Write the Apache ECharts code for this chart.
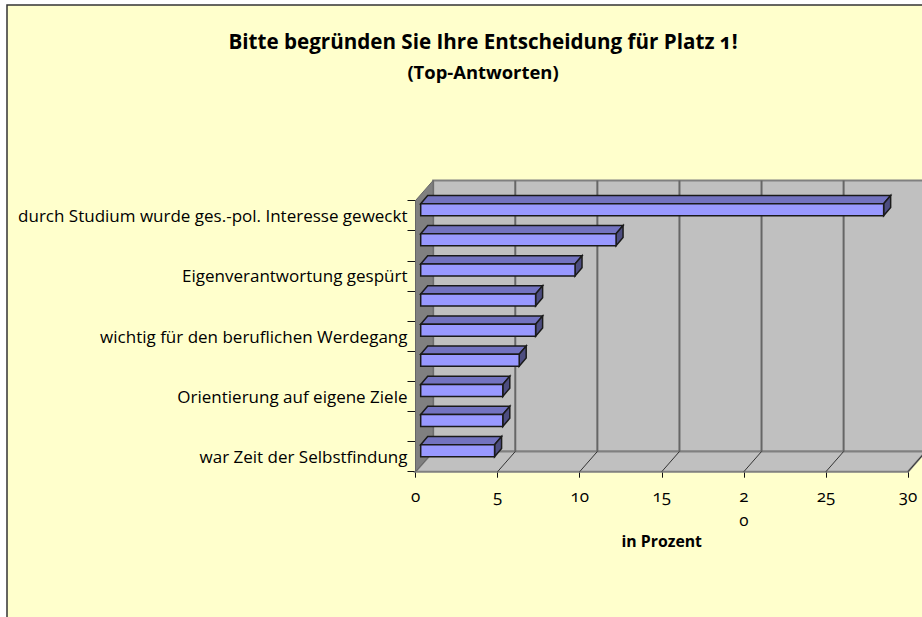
<!DOCTYPE html>
<html><head><meta charset="utf-8">
<style>html,body{margin:0;padding:0;background:#fff}#c{width:922px;height:617px}
text{font-feature-settings:"onum" 1;font-variant-numeric:oldstyle-nums}</style>
<script src="https://cdn.jsdelivr.net/npm/echarts@6/dist/echarts.min.js"></script>
</head><body><div id="c"></div>
<script>
const titleLine1 = 'Bitte begründen Sie Ihre Entscheidung für Platz 1!';
const titleLine2 = '(Top-Antworten)';
const xName = 'in Prozent';
const categories = ['durch Studium wurde ges.-pol. Interesse geweckt','','Eigenverantwortung gespürt','','wichtig für den beruflichen Werdegang','','Orientierung auf eigene Ziele','','war Zeit der Selbstfindung'];
const values = [28.2,11.9,9.4,7.0,7.0,6.0,5.0,5.0,4.5];
const ticks = [0,5,10,15,20,25,30];

const FONT = '"Open Sans"';
const DX = 17.7, DY = -20.2;
const chart = echarts.init(document.getElementById('c'), null, {renderer:'svg'});

function wallItem(params, api){
  const g = params.coordSys, x0=g.x, y0=g.y, x1=g.x+g.width, y1=g.y+g.height;
  const kids = [
    {type:'polygon',shape:{points:[[x0+DX,y0+DY],[x1+DX+30,y0+DY],[x1+DX+30,y1+DY],[x0+DX,y1+DY]]},style:{fill:'#C0C0C0',stroke:'#808080',lineWidth:2}},
    {type:'polygon',shape:{points:[[x0,y1],[x0+DX,y1+DY],[x1+DX,y1+DY],[x1,y1]]},style:{fill:'#C0C0C0',stroke:'#808080',lineWidth:2}},
    {type:'polygon',shape:{points:[[x0,y0],[x0+DX,y0+DY],[x0+DX,y1+DY],[x0,y1]]},style:{fill:'#808080',stroke:'#666',lineWidth:1}}
  ];
  ticks.forEach(t=>{
    const x = api.coord([t,0])[0];
    if(t>0) kids.push({type:'line',shape:{x1:x+DX,y1:y0+DY,x2:x+DX,y2:y1+DY},style:{stroke:'#666',lineWidth:2}});
    if(t>0) kids.push({type:'line',shape:{x1:x,y1:y1,x2:x+DX,y2:y1+DY},style:{stroke:'#333',lineWidth:1}});
  });
  return {type:'group',children:kids};
}
function barItem(params, api){
  const p0 = api.coord([0, api.value(1)]), p1 = api.coord([api.value(0), api.value(1)]);
  const off = 5.2, h = 12, dx = 7, dy = -8.2;
  const xa = p0[0]+off, xb = p1[0]+off, yt = p0[1]-12, yb = yt+h;
  const st = {stroke:'#1a1a1a',lineWidth:1.5,lineJoin:'miter'};
  return {type:'group',children:[
    {type:'polygon',shape:{points:[[xa,yt],[xa+dx,yt+dy],[xb+dx,yt+dy],[xb,yt]]},style:Object.assign({fill:'#7373C0'},st)},
    {type:'polygon',shape:{points:[[xb,yt],[xb+dx,yt+dy],[xb+dx,yb+dy],[xb,yb]]},style:Object.assign({fill:'#4D4D80'},st)},
    {type:'rect',shape:{x:xa,y:yt,width:xb-xa,height:h},style:Object.assign({fill:'#9999FF'},st)}
  ]};
}
chart.setOption({
  animation:false,
  backgroundColor:'#fff',
  graphic:[{type:'rect',z:-10,shape:{x:7,y:5,width:1000,height:800},style:{fill:'#FFFFCC',stroke:'#333',lineWidth:1.5}}],
  title:{text:'{a|'+titleLine1+'}\n{b|'+titleLine2+'}',left:478,top:20,textAlign:'center',
    textStyle:{rich:{
      a:{fontFamily:FONT,fontWeight:'bold',fontSize:20.6,lineHeight:31,color:'#000',align:'center'},
      b:{fontFamily:FONT,fontWeight:'bold',fontSize:18.4,lineHeight:31,color:'#000',align:'center'}}}},
  grid:{left:415.5,top:200.6,width:492.5,height:271.1,containLabel:false},
  xAxis:{type:'value',min:0,max:30,interval:5,name:xName,nameLocation:'middle',nameGap:61,
    nameTextStyle:{fontFamily:FONT,fontWeight:'bold',fontSize:15.8,color:'#000'},
    axisLine:{show:true,lineStyle:{color:'#111',width:1}},
    axisTick:{show:true,length:6,lineStyle:{color:'#111'}},
    splitLine:{show:false},
    axisLabel:{fontFamily:FONT,fontSize:17,color:'#000',margin:12,lineHeight:24,hideOverlap:false,verticalAlign:'top',
      showMinLabel:true,showMaxLabel:true,formatter:v=>v===20?'2\n0':String(v)}},
  yAxis:{type:'category',inverse:true,data:categories,
    axisLine:{show:true,onZero:false,lineStyle:{color:'#111',width:1}},
    axisTick:{show:true,length:8,interval:0,alignWithLabel:false,lineStyle:{color:'#111'}},
    splitLine:{show:false},
    axisLabel:{interval:0,fontFamily:FONT,fontSize:17,color:'#000',margin:8}},
  series:[
    {type:'custom',z:1,silent:true,data:[[0,0]],clip:false,encode:{x:0,y:1},renderItem:wallItem},
    {type:'custom',z:2,silent:true,clip:false,encode:{x:0,y:1},
     data:values.map((v,i)=>[v,i]),renderItem:barItem}
  ]
});
</script></body></html>
